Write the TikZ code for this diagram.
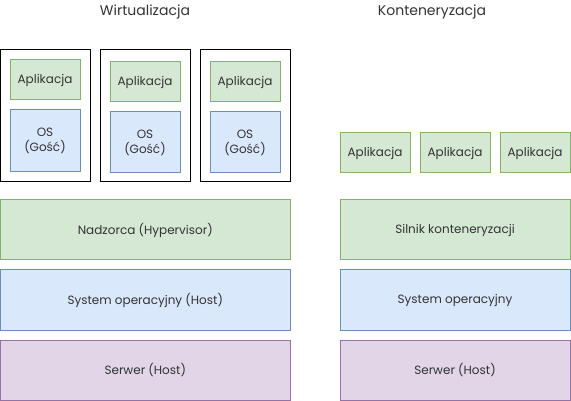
\documentclass[tikz,border=0pt]{standalone}
\usepackage{fontspec}
\setmainfont{Poppins}
\definecolor{gfill}{HTML}{D5E8D4}\definecolor{gline}{HTML}{82B366}
\definecolor{bfill}{HTML}{DAE8FC}\definecolor{bline}{HTML}{6C8EBF}
\definecolor{pfill}{HTML}{E1D5E7}\definecolor{pline}{HTML}{9673A6}
\definecolor{txt}{HTML}{333333}
\begin{document}
\begin{tikzpicture}[x=1pt,y=-1pt,
  box/.style={draw,line width=1pt,inner sep=0pt,align=center,text=txt,font=\fontsize{12}{15}\selectfont},
  gbox/.style={box,fill=gfill,draw=gline},
  bbox/.style={box,fill=bfill,draw=bline},
  pbox/.style={box,fill=pfill,draw=pline},
  vm/.style={draw=black,line width=1pt,fill=white},
  title/.style={text=txt,font=\fontsize{14}{17}\selectfont}]
\useasboundingbox (0,0) rectangle (571,401);
\node[title] (t1) at (145,12) {Wirtualizacja};
\node[title] (t2) at (432,12) {Konteneryzacja};
% VM frames
\draw[vm] (0.5,50) rectangle (90,182);
\draw[vm] (100,50) rectangle (190,182);
\draw[vm] (200,50) rectangle (290,182);
% VM contents
\path[gbox] (10,60) rectangle node (a1) {Aplikacja} (80,100);
\path[gbox] (110,62) rectangle node (a2) {Aplikacja} (180,102);
\path[gbox] (210,62) rectangle node (a3) {Aplikacja} (280,102);
\path[bbox] (10,110) rectangle node (o1) {OS\\(Gość)} (80,172);
\path[bbox] (110,112) rectangle node (o2) {OS\\(Gość)} (180,173);
\path[bbox] (210,112) rectangle node (o3) {OS\\(Gość)} (280,173);
% left layers
\path[gbox] (0.5,200) rectangle node (hv) {Nadzorca (Hypervisor)} (290,260);
\path[bbox] (0.5,270) rectangle node (os) {System operacyjny (Host)} (290,330);
\path[pbox] (0.5,340) rectangle node (sv) {Serwer (Host)} (290,400);
% right
\path[gbox] (340,133) rectangle node (c1) {Aplikacja} (410,173);
\path[gbox] (420,133) rectangle node (c2) {Aplikacja} (490,173);
\path[gbox] (500,133) rectangle node (c3) {Aplikacja} (570,173);
\path[gbox] (340,200) rectangle node (ce) {Silnik konteneryzacji} (570,260);
\path[bbox] (340,270) rectangle node (cos) {System operacyjny} (570,330);
\path[pbox] (340,340) rectangle node (csv) {Serwer (Host)} (570,400);
\end{tikzpicture}
\end{document}
